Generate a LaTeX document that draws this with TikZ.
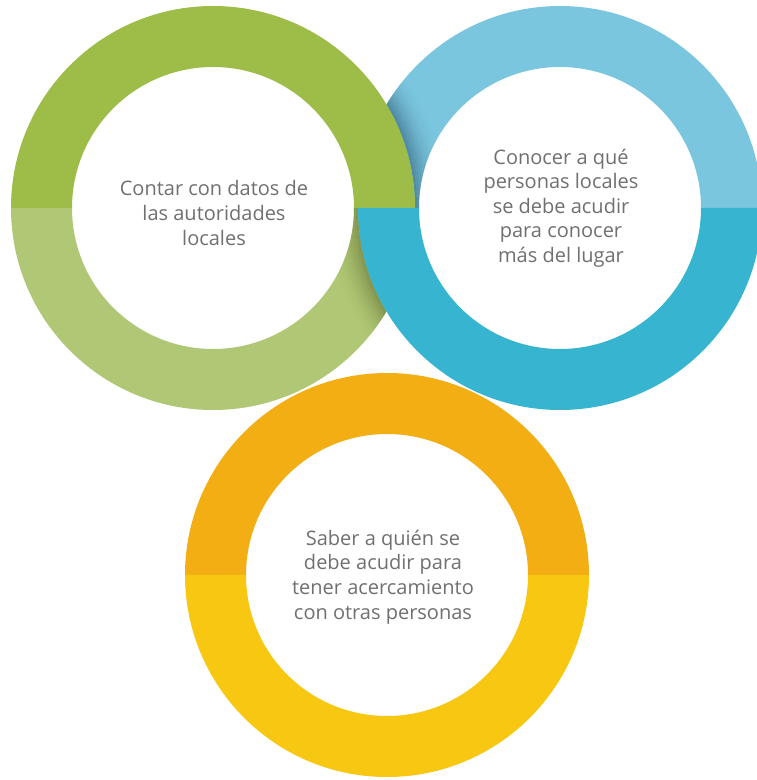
\documentclass[tikz,border=0pt]{standalone}
\usepackage{fontspec}
\setmainfont{Open Sans}
\definecolor{gtop}{HTML}{9DBD48}
\definecolor{gbot}{HTML}{B0C875}
\definecolor{btop}{HTML}{7AC6DE}
\definecolor{bbot}{HTML}{37B4CF}
\definecolor{ytop}{HTML}{F2AE12}
\definecolor{ybot}{HTML}{F8C712}
\definecolor{txtgray}{HTML}{707070}
\definecolor{shblue}{HTML}{2A5870}
\definecolor{shgreen}{HTML}{55602A}
\newcommand\myringtop[1]{(202,0) arc[start angle=0,end angle=180,radius=202] -- (-141,0) arc[start angle=180,end angle=0,radius=141] -- cycle}
\newcommand\myringbot[1]{(202,0) arc[start angle=0,end angle=-180,radius=202] -- (-141,0) arc[start angle=-180,end angle=0,radius=141] -- cycle}
\tikzset{
  txt/.style={align=center, text=txtgray, inner sep=0pt, font=\fontsize{20}{24.6}\selectfont},
}
\begin{document}
\begin{tikzpicture}[x=1pt,y=1pt]
\useasboundingbox (0,0) rectangle (757,780);
\clip (0,0) rectangle (757,780);
\fill[white] (0,0) rectangle (757,780);
\coordinate (gc) at (213,572);
\coordinate (bc) at (560,572);
\coordinate (yc) at (387,205);
% blue top half
\fill[btop,shift={(bc)}] \myringtop{};
% shadow on blue under green
\begin{scope}
  \clip[shift={(bc)}] \myringtop{};
  \foreach \i [evaluate=\i as \o using {0.5*(1-\i/16)^2}] in {0,...,15}
    \draw[shblue, line width=2.1pt, opacity=\o] (gc) circle[radius=203+2*\i];
\end{scope}
% green
\fill[gtop,shift={(gc)}] \myringtop{};
\fill[gbot,shift={(gc)}] \myringbot{};
% shadow on green under blue
\begin{scope}
  \clip[shift={(gc)}] \myringbot{};
  \foreach \i [evaluate=\i as \o using {0.45*(1-\i/16)^2}] in {0,...,15}
    \draw[shgreen, line width=2.1pt, opacity=\o] (bc) circle[radius=203+2*\i];
\end{scope}
% blue bottom half
\fill[bbot,shift={(bc)}] \myringbot{};
% yellow
\fill[ytop,shift={(yc)}] \myringtop{};
\fill[ybot,shift={(yc)}] \myringbot{};
% texts
\node[txt] (gt) at (214,567) {Contar con datos de\\las autoridades\\locales};
\node[txt] (bt) at (561,572) {Conocer a qué\\personas locales\\se debe acudir\\para conocer\\más del lugar};
\node[txt] (yt) at (383,203) {Saber a quién se\\debe acudir para\\tener acercamiento\\con otras personas};
\end{tikzpicture}
\end{document}
